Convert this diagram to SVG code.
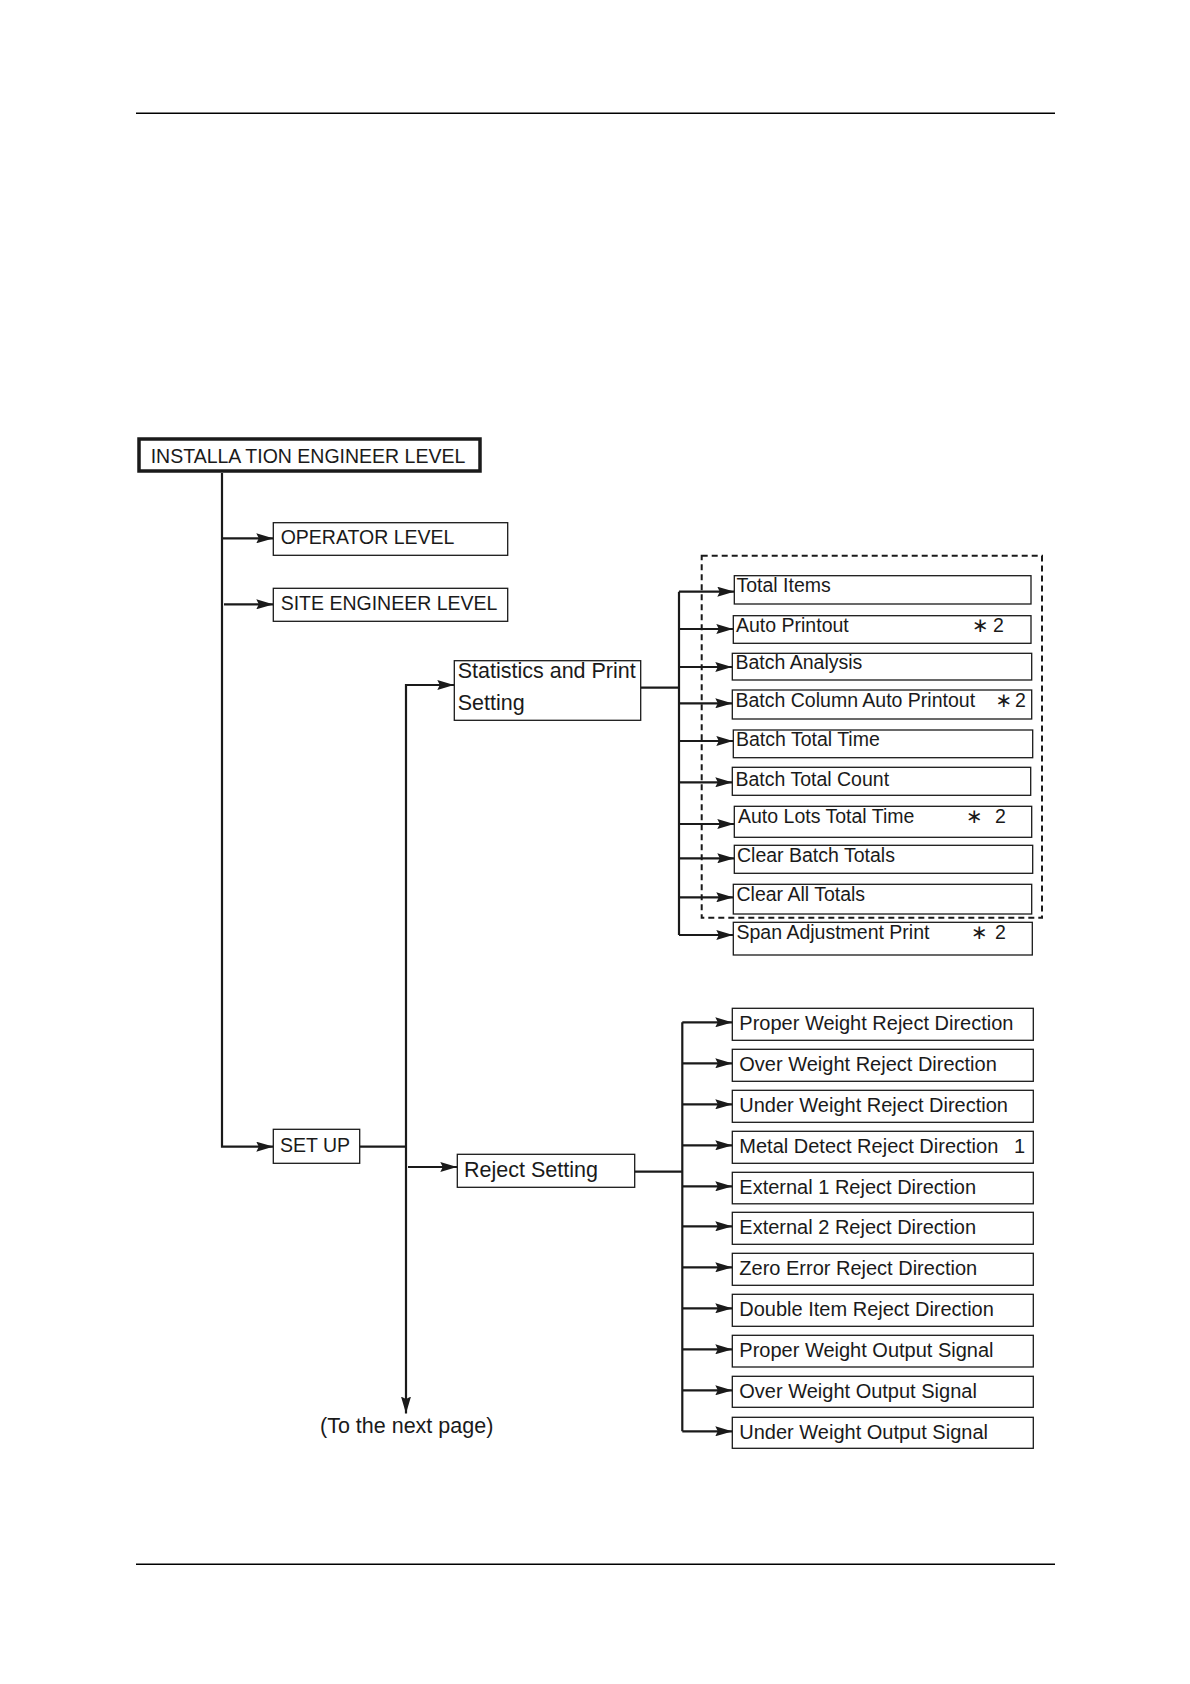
<svg xmlns="http://www.w3.org/2000/svg" width="1190" height="1684" viewBox="0 0 1190 1684">
<defs>
<style>
.bx{fill:#fff;stroke:#1a1a1a;stroke-width:1.3}
.bx2{fill:#fff;stroke:#1a1a1a;stroke-width:3.5}
.t{font-family:"Liberation Sans",Arial,sans-serif;font-size:19.5px;fill:#1a1a1a}
.tl{font-family:"Liberation Sans",Arial,sans-serif;font-size:21.5px;fill:#1a1a1a}
.tr{font-family:"Liberation Sans",Arial,sans-serif;font-size:20px;fill:#1a1a1a}
.ast{font-family:"DejaVu Sans","Liberation Sans",sans-serif;font-size:20px;fill:#1a1a1a}
.c{fill:none;stroke:#1a1a1a;stroke-width:2.2}
.a{fill:none;stroke:#1a1a1a;stroke-width:2.2;marker-end:url(#ah)}
.pl{stroke:#000;stroke-width:1.4}
</style>
<marker id="ah" markerUnits="userSpaceOnUse" markerWidth="17" markerHeight="10" viewBox="0 0 17 10" refX="17" refY="5" orient="auto"><path d="M0,0 L17,5 L0,10 L2.5,5 z" fill="#1a1a1a"/></marker>
</defs>
<rect width="1190" height="1684" fill="#fff"/>
<line class="pl" x1="136" y1="113.3" x2="1055" y2="113.3"/>
<line class="pl" x1="136" y1="1564.3" x2="1055" y2="1564.3"/>

<g id="connectors">
<polyline class="a" points="222,473 222,1146.7 273.3,1146.7"/>
<line class="a" x1="222" y1="538.3" x2="273.3" y2="538.3"/>
<line class="a" x1="224" y1="604.3" x2="273.3" y2="604.3"/>
<line class="c" x1="359.7" y1="1146.7" x2="406" y2="1146.7"/>
<polyline class="a" points="454.3,685 406,685 406,1413.5"/>
<line class="a" x1="406" y1="685" x2="454.3" y2="685"/>
<line class="a" x1="408" y1="1167" x2="457.3" y2="1167"/>
<line class="c" x1="640.7" y1="687.7" x2="679" y2="687.7"/>
<line class="c" x1="679" y1="591.7" x2="679" y2="935"/>
<line class="a" x1="679" y1="591.7" x2="734.3" y2="591.7"/>
<line class="a" x1="679" y1="629" x2="733.3" y2="629"/>
<line class="a" x1="679" y1="667" x2="732.3" y2="667"/>
<line class="a" x1="679" y1="703.3" x2="732.3" y2="703.3"/>
<line class="a" x1="679" y1="741" x2="733.3" y2="741"/>
<line class="a" x1="679" y1="782.3" x2="732.3" y2="782.3"/>
<line class="a" x1="679" y1="824" x2="734.3" y2="824"/>
<line class="a" x1="679" y1="858.3" x2="734.3" y2="858.3"/>
<line class="a" x1="679" y1="897.3" x2="733.3" y2="897.3"/>
<line class="a" x1="679" y1="935" x2="733.3" y2="935"/>
<line class="c" x1="634.7" y1="1171.7" x2="682.3" y2="1171.7"/>
<line class="c" x1="682.3" y1="1022.3" x2="682.3" y2="1431.3"/>
<line class="a" x1="682.3" y1="1022.3" x2="732.3" y2="1022.3"/>
<line class="a" x1="682.3" y1="1063.3" x2="732.3" y2="1063.3"/>
<line class="a" x1="682.3" y1="1104.3" x2="732.3" y2="1104.3"/>
<line class="a" x1="682.3" y1="1145.3" x2="732.3" y2="1145.3"/>
<line class="a" x1="682.3" y1="1186.3" x2="732.3" y2="1186.3"/>
<line class="a" x1="682.3" y1="1226.3" x2="732.3" y2="1226.3"/>
<line class="a" x1="682.3" y1="1267.3" x2="732.3" y2="1267.3"/>
<line class="a" x1="682.3" y1="1308.3" x2="732.3" y2="1308.3"/>
<line class="a" x1="682.3" y1="1349.3" x2="732.3" y2="1349.3"/>
<line class="a" x1="682.3" y1="1390.3" x2="732.3" y2="1390.3"/>
<line class="a" x1="682.3" y1="1431.3" x2="732.3" y2="1431.3"/>
</g>

<rect id="stats-group" x="701.7" y="555.7" width="340.3" height="362" fill="none" stroke="#1a1a1a" stroke-width="2" stroke-dasharray="6 4"/>

<g id="installation"><rect class="bx2" x="139" y="439" width="341" height="32"/><text class="t" x="150.7" y="463.3">INSTALLA TION ENGINEER LEVEL</text></g>
<g id="operator"><rect class="bx" x="273.3" y="522.7" width="234.4" height="32.6"/><text class="t" x="280.7" y="544">OPERATOR LEVEL</text></g>
<g id="site"><rect class="bx" x="273.3" y="588.3" width="234.4" height="33"/><text class="t" x="280.7" y="610">SITE ENGINEER LEVEL</text></g>
<g id="setup"><rect class="bx" x="273.3" y="1129.3" width="86.4" height="34"/><text class="t" x="280" y="1151.7">SET UP</text></g>
<g id="statistics"><rect class="bx" x="454.3" y="660.7" width="186.4" height="59.6"/><text class="tl" x="457.7" y="677.7">Statistics and Print</text><text class="tl" x="457.7" y="710">Setting</text></g>
<g id="reject"><rect class="bx" x="457.3" y="1154.3" width="177.4" height="33"/><text class="tl" x="464" y="1176.7">Reject Setting</text></g>

<g id="total-items"><rect class="bx" x="734.3" y="575.7" width="296.7" height="28.3"/><text class="t" x="736.5" y="592">Total Items</text></g>
<g id="auto-printout"><rect class="bx" x="733.3" y="615.7" width="297.7" height="27.6"/><text class="t" x="736" y="631.7">Auto Printout</text><text class="ast" x="972" y="631.7">∗</text><text class="t" x="993" y="631.7">2</text></g>
<g id="batch-analysis"><rect class="bx" x="732.3" y="653.3" width="299.4" height="26.7"/><text class="t" x="735.5" y="669.3">Batch Analysis</text></g>
<g id="batch-column"><rect class="bx" x="732.3" y="690" width="299.4" height="29"/><text class="t" x="735.5" y="706.7">Batch Column Auto Printout</text><text class="ast" x="995.5" y="706.7">∗</text><text class="t" x="1015" y="706.7">2</text></g>
<g id="batch-total-time"><rect class="bx" x="733.3" y="730" width="299.4" height="27.7"/><text class="t" x="736" y="745.7">Batch Total Time</text></g>
<g id="batch-total-count"><rect class="bx" x="732.3" y="767.3" width="298.4" height="28"/><text class="t" x="735.5" y="785.7">Batch Total Count</text></g>
<g id="auto-lots"><rect class="bx" x="734.3" y="806.3" width="297.4" height="31"/><text class="t" x="738" y="822.7">Auto Lots Total Time</text><text class="ast" x="966" y="822.7">∗</text><text class="t" x="995" y="822.7">2</text></g>
<g id="clear-batch"><rect class="bx" x="734.3" y="845.3" width="298.4" height="28"/><text class="t" x="737" y="861.7">Clear Batch Totals</text></g>
<g id="clear-all"><rect class="bx" x="733.3" y="884.3" width="298.4" height="29.7"/><text class="t" x="736.5" y="901">Clear All Totals</text></g>
<g id="span-adj"><rect class="bx" x="733.3" y="922.3" width="299" height="32.7"/><text class="t" x="736.5" y="939">Span Adjustment Print</text><text class="ast" x="971" y="939">∗</text><text class="t" x="995" y="939">2</text></g>

<g id="r1"><rect class="bx" x="732.3" y="1008.3" width="301" height="32"/><text class="tr" x="739.3" y="1030">Proper Weight Reject Direction</text></g>
<g id="r2"><rect class="bx" x="732.3" y="1049.3" width="301" height="32"/><text class="tr" x="739.3" y="1071">Over Weight Reject Direction</text></g>
<g id="r3"><rect class="bx" x="732.3" y="1090.3" width="301" height="32"/><text class="tr" x="739.3" y="1112">Under Weight Reject Direction</text></g>
<g id="r4"><rect class="bx" x="732.3" y="1131.3" width="301" height="32"/><text class="tr" x="739.3" y="1153">Metal Detect Reject Direction</text><text class="tr" x="1014" y="1153">1</text></g>
<g id="r5"><rect class="bx" x="732.3" y="1172.3" width="301" height="31.5"/><text class="tr" x="739.3" y="1194">External 1 Reject Direction</text></g>
<g id="r6"><rect class="bx" x="732.3" y="1212.3" width="301" height="32"/><text class="tr" x="739.3" y="1234">External 2 Reject Direction</text></g>
<g id="r7"><rect class="bx" x="732.3" y="1253.3" width="301" height="32"/><text class="tr" x="739.3" y="1275">Zero Error Reject Direction</text></g>
<g id="r8"><rect class="bx" x="732.3" y="1294.3" width="301" height="32"/><text class="tr" x="739.3" y="1316">Double Item Reject Direction</text></g>
<g id="r9"><rect class="bx" x="732.3" y="1335.3" width="301" height="31.7"/><text class="tr" x="739.3" y="1357">Proper Weight Output Signal</text></g>
<g id="r10"><rect class="bx" x="732.3" y="1376.3" width="301" height="31"/><text class="tr" x="739.3" y="1398">Over Weight Output Signal</text></g>
<g id="r11"><rect class="bx" x="732.3" y="1417.3" width="301" height="31"/><text class="tr" x="739.3" y="1439">Under Weight Output Signal</text></g>

<text class="tl" x="320" y="1433.3">(To the next page)</text>
</svg>
